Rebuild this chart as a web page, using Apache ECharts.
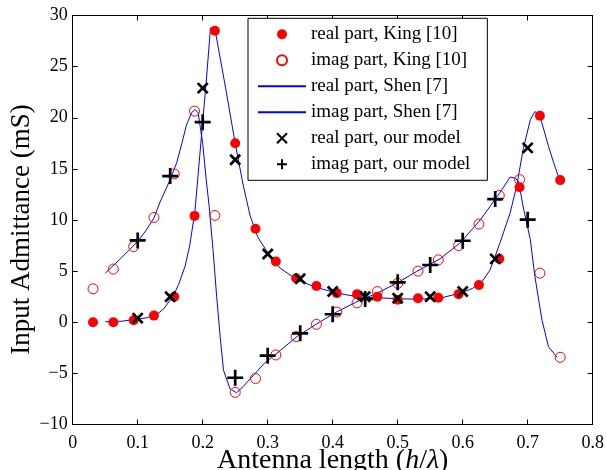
<!DOCTYPE html>
<html><head><meta charset="utf-8">
<script src="https://cdn.jsdelivr.net/npm/echarts@6/dist/echarts.min.js"></script>
<style>html,body{margin:0;padding:0;background:#fff}#c{width:606px;height:470px}</style>
</head><body><div id="c"></div>
<script>
// King [10] measured data
const kingX = [0.03125,0.0625,0.09375,0.125,0.15625,0.1875,0.21875,0.25,0.28125,0.3125,0.34375,0.375,0.40625,0.4375,0.46875,0.5,0.53125,0.5625,0.59375,0.625,0.65625,0.6875,0.71875,0.75];
const kingReal = [0,0,0.2,0.65,2.5,10.4,28.5,17.5,9.15,5.95,4.3,3.55,2.85,2.75,2.5,2.2,2.35,2.4,2.75,3.65,6.2,13.2,20.2,13.9];
const kingImag = [3.27,5.2,7.4,10.25,14.5,20.65,10.45,-6.86,-5.5,-3.2,-1.4,-0.2,1.0,1.9,3.0,3.8,5.0,6.1,7.5,9.6,12.4,13.95,4.8,-3.43];
// our model
const modelX = [0.1,0.15,0.2,0.25,0.3,0.35,0.4,0.45,0.5,0.55,0.6,0.65,0.7];
const modelReal = [0.4,2.5,22.9,15.9,6.67,4.25,3.0,2.5,2.35,2.5,3.0,6.2,17.05];
const modelImag = [8.0,14.3,19.57,-5.43,-3.27,-1.08,0.78,2.28,3.9,5.6,7.97,12.05,10.03];
// Shen [7]
const shenRealX = [0.05,0.075,0.1,0.115,0.13,0.14,0.148,0.155,0.163,0.173,0.18,0.188,0.2,0.205,0.212,0.219,0.235,0.25,0.262,0.273,0.285,0.298,0.319,0.345,0.375,0.407,0.437,0.468,0.5,0.53,0.565,0.596,0.615,0.63,0.642,0.657,0.673,0.683,0.693,0.704,0.711,0.718,0.725,0.732,0.74,0.748];
const shenRealY = [0.05,0.1,0.3,0.45,0.8,1.3,2.0,2.6,3.7,5.5,7.5,10.8,19.6,23.2,28.8,28.6,23,17.5,13.5,10.4,8.3,7.0,5.3,4.15,3.4,2.85,2.5,2.4,2.3,2.25,2.35,2.85,3.3,4.0,5.1,7.7,10.7,13.3,16.9,19.8,20.6,20.3,18.8,17.2,15.6,14.1];
const shenImagX = [0.05,0.075,0.1,0.113,0.125,0.134,0.15,0.16,0.168,0.175,0.183,0.188,0.193,0.2,0.205,0.21,0.216,0.2215,0.227,0.232,0.242,0.252,0.262,0.278,0.295,0.311,0.345,0.375,0.407,0.437,0.468,0.498,0.529,0.565,0.596,0.627,0.657,0.673,0.68,0.686,0.693,0.704,0.711,0.722,0.732,0.745];
const shenImagY = [4.8,6.3,7.9,9.0,10.2,11.7,13.95,15.6,17.5,19.3,20.5,20.8,20.5,17.5,14.2,11.3,7,2.5,-1.5,-4.7,-6.5,-6.9,-6.3,-5.2,-4.0,-3.2,-1.4,-0.17,1.04,2.0,2.84,3.8,4.96,6.2,7.75,10.0,12.65,14.2,14.1,13.8,11.3,8.1,4.5,0.2,-2.4,-3.4];
const xTicks = {min:0,max:0.8,interval:0.1};
const yTicks = {min:-10,max:30,interval:5};
const names = ['real part, King [10]','imag part, King [10]','real part, Shen [7]','imag part, Shen [7]','real part, our model','imag part, our model'];

const zip = (xs, ys) => xs.map((x,i)=>[x, ys[i]]);
const FONT = 'Liberation Serif';
const axisCommon = {
  axisLine:{show:true,onZero:false,lineStyle:{color:'#000',width:1}},
  axisTick:{show:true,inside:true,length:5,lineStyle:{color:'#000'}},
  splitLine:{show:false}
};
const chart = echarts.init(document.getElementById('c'));
chart.setOption({
  animation:false,
  backgroundColor:'#fff',
  grid:{left:72.7,right:13.3,top:15.5,bottom:45.5,outerBoundsMode:'none',containLabel:false},
  xAxis:[
    Object.assign({type:'value',position:'bottom',min:xTicks.min,max:xTicks.max,interval:xTicks.interval,
      axisLabel:{color:'#000',fontFamily:FONT,fontSize:18,margin:10,formatter:v=>String(+v.toFixed(1))},
      name:'Antenna length ({i|h}/{i|λ})',nameLocation:'middle',nameGap:22,nameMoveOverlap:false,
      nameTextStyle:{color:'#000',fontFamily:FONT,fontSize:28,rich:{i:{fontStyle:'italic',fontFamily:FONT,fontSize:28,color:'#000'}}}
    },axisCommon),
    Object.assign({type:'value',position:'top',min:xTicks.min,max:xTicks.max,interval:xTicks.interval,axisLabel:{show:false}},axisCommon)
  ],
  yAxis:[
    Object.assign({type:'value',position:'left',min:yTicks.min,max:yTicks.max,interval:yTicks.interval,
      axisLabel:{color:'#000',fontFamily:FONT,fontSize:18,margin:5,formatter:v=>String(v).replace('-','\u2212')},
      name:'Input Admittance (mS)\u2002\u2009',nameLocation:'middle',nameGap:37,nameMoveOverlap:false,
      nameTextStyle:{color:'#000',fontFamily:FONT,fontSize:27}
    },axisCommon),
    Object.assign({type:'value',position:'right',min:yTicks.min,max:yTicks.max,interval:yTicks.interval,axisLabel:{show:false}},axisCommon)
  ],
  legend:{
    orient:'vertical',left:248,top:18.3,
    data:[names[0],names[1],{name:names[2],itemStyle:{opacity:0}},{name:names[3],itemStyle:{opacity:0}},names[4],names[5]],
    itemWidth:48,itemHeight:10,itemGap:7,
    padding:[6.5,17,6.5,9],
    borderColor:'#000',borderWidth:1,backgroundColor:'#fff',
    textStyle:{color:'#000',fontFamily:FONT,fontSize:19},
    selectedMode:false
  },
  series:[
    {name:names[2],type:'line',data:zip(shenRealX,shenRealY),symbol:'none',lineStyle:{color:'#0000ff',width:1},itemStyle:{color:'#0000ff'},z:2},
    {name:names[3],type:'line',data:zip(shenImagX,shenImagY),symbol:'none',lineStyle:{color:'#0000ff',width:1},itemStyle:{color:'#0000ff'},z:2},
    {name:names[0],type:'scatter',data:zip(kingX,kingReal),symbol:'circle',symbolSize:10,itemStyle:{color:'#ff0000',opacity:1},z:3},
    {name:names[1],type:'scatter',data:zip(kingX,kingImag),symbol:'circle',symbolSize:10,itemStyle:{color:'rgba(255,255,255,0)',borderColor:'#ff0000',borderWidth:1,opacity:1},z:3},
    {name:names[4],type:'scatter',data:zip(modelX,modelReal),symbol:'path://M0,0L10,10M10,0L0,10',symbolSize:10,itemStyle:{color:'#000',borderColor:'#000',borderWidth:2.7,opacity:1},z:4},
    {name:names[5],type:'scatter',data:zip(modelX,modelImag),symbol:'path://M5,0L5,10M0,5L10,5',symbolSize:16,itemStyle:{color:'#000',borderColor:'#000',borderWidth:2.7,opacity:1},z:4}
  ]
});
</script></body></html>
